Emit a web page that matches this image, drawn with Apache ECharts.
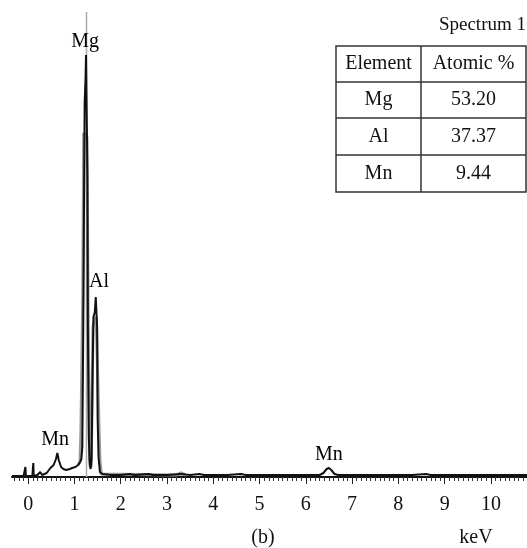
<!DOCTYPE html>
<html>
<head>
<meta charset="utf-8">
<script src="https://cdn.jsdelivr.net/npm/echarts@6/dist/echarts.min.js"></script>
<style>html,body{margin:0;padding:0;background:#fff}#c{width:527px;height:548px}</style>
</head>
<body>
<div id="c"></div>
<script>
// ---- data (keV, counts in arbitrary units) ----
const tickLabels = [0,1,2,3,4,5,6,7,8,9,10];
const blackTrace = [
  [-0.35,1],[-0.1,1],[-0.07,1],[-0.06,10],[-0.05,1],[0.09,1],[0.11,14],[0.12,1],[0.2,2],[0.26,5],[0.3,2],
  [0.4,4],[0.48,9],[0.55,12],[0.6,18],[0.63,24],[0.66,17],[0.71,10],[0.76,8],[0.82,7],[0.9,8],[0.95,9],
  [1.02,10],[1.08,12],[1.12,15],[1.15,18],[1.17,30],[1.19,150],[1.21,300],[1.22,374],[1.24,400],[1.25,422],
  [1.27,422],[1.28,300],[1.29,150],[1.31,40],[1.33,12],[1.35,8],[1.37,18],[1.39,100],[1.41,160],[1.44,165],
  [1.46,180],[1.48,180],[1.49,150],[1.50,60],[1.52,20],[1.55,5],[1.6,3],[1.8,2],[2.0,2],[2.2,3],[2.3,2],
  [2.6,3],[2.7,2],[3.0,2],[3.3,3],[3.5,2],[3.7,3],[3.8,2],[4.3,2],[4.6,3],[4.7,2],[5.5,2],[6.2,2],[6.3,2],
  [6.38,4],[6.45,8],[6.5,9],[6.55,7],[6.62,3],[6.7,2],[7.0,2],[7.5,2],[8.0,2],[8.3,2],[8.6,3],[8.7,2],
  [9.2,2],[9.6,2],[10.0,2],[10.78,2]
];
const greyTrace = [
  [1.08,12],[1.12,15],[1.14,47],[1.16,47],[1.18,184],[1.20,344],[1.24,344],[1.27,340],[1.30,130],[1.32,130],
  [1.33,17],[1.36,10],[1.38,70],[1.40,150],[1.42,155],[1.47,160],[1.51,160],[1.53,50],[1.55,17],[1.58,3],
  [3.2,2],[3.3,4],[3.4,2]
];
const markerLine = [[1.26,0],[1.26,465]];
const peakLabels = [[1.23,435,'Mg'],[1.53,195,'Al'],[0.58,37,'Mn'],[6.5,22,'Mn']];
const tableTitle = 'Spectrum 1';
const tableHeader = ['Element','Atomic %'];
const tableElements = ['Mg','Al','Mn'];
const tableAtomic = ['53.20','37.37','9.44'];

const serif = '"Liberation Serif","Times New Roman",serif';
const xMin = -0.35, xMax = 10.78;
const minorTicks = [];
for (let k = -3; k <= 107; k++) { if (k % 10 !== 0) minorTicks.push(k / 10); }

const chart = echarts.init(document.getElementById('c'));

// table graphics
const tx = 336, ty = 46, tw = 190, colX = 421, rowY = [46, 82, 118, 155, 192];
const g = [];
g.push({type:'rect', shape:{x:tx, y:ty, width:tw, height:rowY[4]-ty}, style:{fill:'#fff', stroke:'#333', lineWidth:1.5}});
for (let i = 1; i < 4; i++) g.push({type:'line', shape:{x1:tx, y1:rowY[i], x2:tx+tw, y2:rowY[i]}, style:{stroke:'#333', lineWidth:1.5}});
g.push({type:'line', shape:{x1:colX, y1:ty, x2:colX, y2:rowY[4]}, style:{stroke:'#333', lineWidth:1.5}});
const cells = [tableHeader].concat(tableElements.map((e,i)=>[e, tableAtomic[i]]));
cells.forEach((row, r) => {
  const cy = (rowY[r] + rowY[r+1]) / 2;
  g.push({type:'text', x:(tx+colX)/2, y:cy, style:{text:row[0], font:'20px '+serif, fill:'#111', align:'center', verticalAlign:'middle'}});
  g.push({type:'text', x:(colX+tx+tw)/2, y:cy, style:{text:row[1], font:'20px '+serif, fill:'#111', align:'center', verticalAlign:'middle'}});
});
g.push({type:'text', x:526, y:25, style:{text:tableTitle, font:'19px '+serif, fill:'#111', align:'right', verticalAlign:'middle'}});
g.push({type:'text', x:263, y:538, style:{text:'(b)', font:'20px '+serif, fill:'#111', align:'center', verticalAlign:'middle'}});
g.push({type:'text', x:476, y:538, style:{text:'keV', font:'20px '+serif, fill:'#111', align:'center', verticalAlign:'middle'}});

chart.setOption({
  animation: false,
  grid: {left: 12, right: 0, top: 0, bottom: 71},
  xAxis: [{
    type: 'value', min: xMin, max: xMax, position: 'bottom',
    splitLine: {show: false},
    axisLine: {show: true, lineStyle: {color: '#111', width: 2}},
    axisTick: {show: true, customValues: tickLabels, length: 7, lineStyle: {color: '#222', width: 1}},
    axisLabel: {show: true, customValues: tickLabels, margin: 18, fontFamily: serif, fontSize: 20, color: '#111'}
  },{
    type: 'value', min: xMin, max: xMax, position: 'bottom', offset: 0,
    splitLine: {show: false},
    axisLine: {show: false},
    axisTick: {show: true, customValues: minorTicks, length: 4, lineStyle: {color: '#333', width: 1}},
    axisLabel: {show: false}
  }],
  yAxis: {type: 'value', min: 0, max: 477, show: false, splitLine: {show: false}},
  series: [
    {type: 'line', data: markerLine, symbol: 'none', lineStyle: {color: '#aaa', width: 1.5}, z: 1},
    {type: 'line', data: greyTrace, symbol: 'none', lineStyle: {color: '#999', width: 3}, z: 2},
    {type: 'line', data: blackTrace, symbol: 'none', lineStyle: {color: '#111', width: 2}, z: 3},
    {type: 'scatter', data: peakLabels, symbolSize: 0, z: 4, itemStyle: {opacity: 1},
     label: {show: true, position: 'inside', formatter: p => p.data[2], fontFamily: serif, fontSize: 20, color: '#000', opacity: 1}}
  ],
  graphic: g
});
</script>
</body>
</html>
